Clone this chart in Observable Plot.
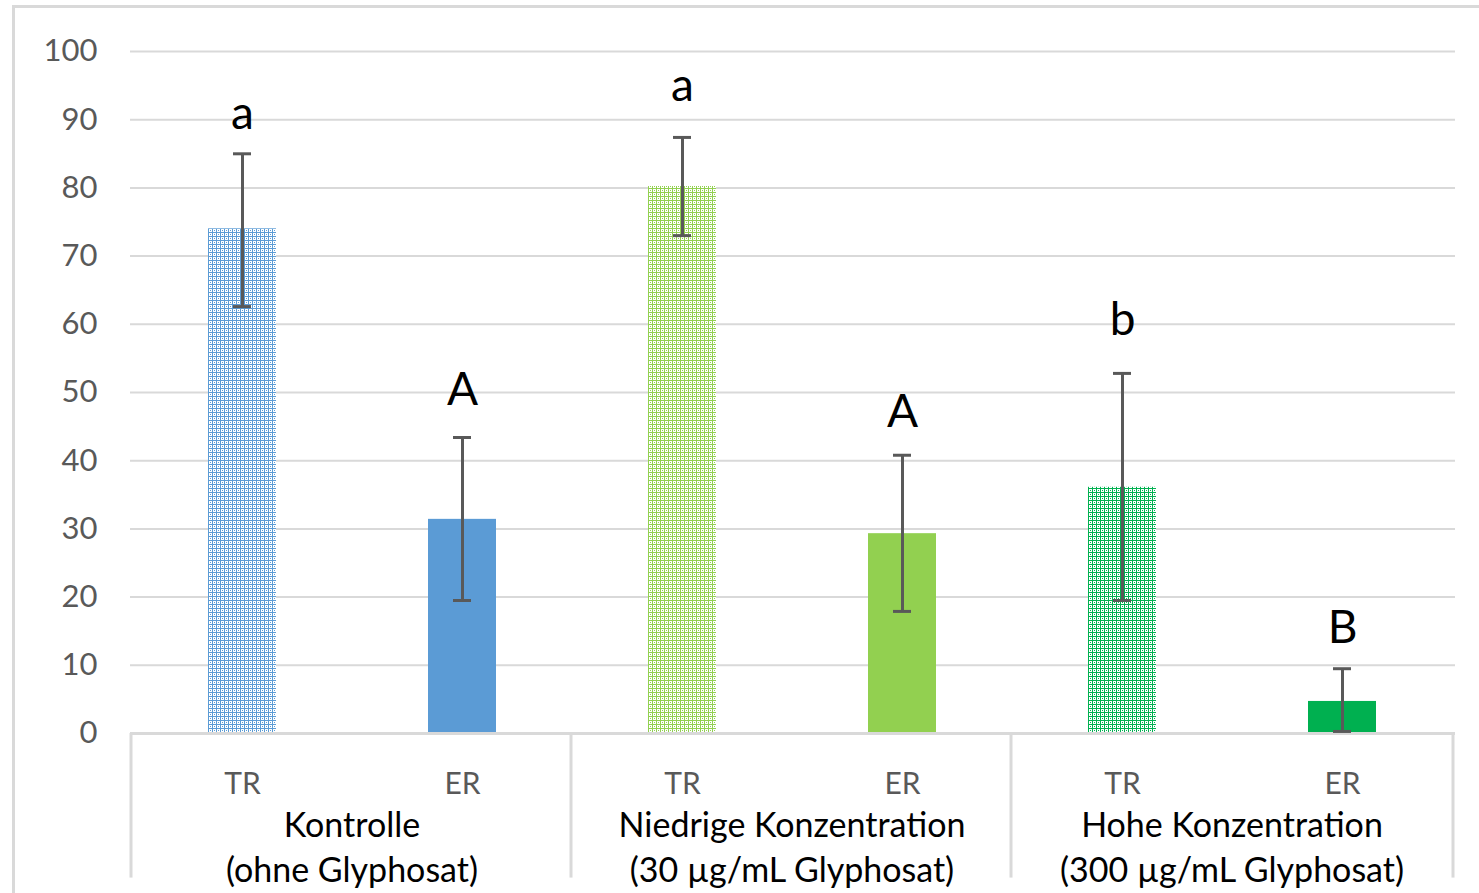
<!DOCTYPE html>
<html>
<head>
<meta charset="utf-8">
<script src="https://cdn.jsdelivr.net/npm/d3@7"></script>
<script src="https://cdn.jsdelivr.net/npm/@observablehq/plot@0.6"></script>
<style>
  html, body { margin: 0; padding: 0; background: #fff; overflow: hidden; }
  #frame { position: absolute; left: 12px; top: 5px; width: 2000px; height: 2000px;
           border-left: 3px solid #d9d9d9; border-top: 3px solid #d9d9d9; }
  #chart { position: absolute; left: 0; top: 0; }
</style>
</head>
<body>
<div id="frame"></div>
<div id="chart"></div>
<script>
// ---- data ----
const groups = ["Kontrolle\n(ohne Glyphosat)", "Niedrige Konzentration\n(30 µg/mL Glyphosat)", "Hohe Konzentration\n(300 µg/mL Glyphosat)"];
const conditions = ["TR", "ER"];
const groupColors = ["#5B9BD5", "#92D050", "#00B050"];
const means   = [74.0, 31.4, 80.2, 29.3, 36.1, 4.7];
const errLow  = [62.6, 19.5, 73.0, 17.9, 19.5, 0.3];
const errHigh = [85.0, 43.4, 87.4, 40.8, 52.8, 9.5];
const letters = ["a", "A", "a", "A", "b", "B"];
const letterY = [88.7, 48.1, 92.7, 44.9, 58.4, 13.3];
const yTicks = [0, 10, 20, 30, 40, 50, 60, 70, 80, 90, 100];

// ---- table built from the arrays ----
const data = [];
groups.forEach((g, gi) => conditions.forEach((c, ci) => {
  const i = gi * 2 + ci;
  data.push({
    key: gi + "|" + c, group: g, cond: c,
    mean: means[i], lo: errLow[i], hi: errHigh[i],
    letter: letters[i], letterY: letterY[i],
    fill: c === "TR" ? `url(#pat${gi})` : groupColors[gi]
  });
}));
const keys = data.map(d => d.key);
const groupData = groups.map((g, gi) => ({label: g, trKey: gi + "|TR", erKey: gi + "|ER"}));

const font = "Lato, 'Open Sans', sans-serif";
const errColor = "#595959";

const chart = Plot.plot({
  width: 1479,
  height: 893,
  marginLeft: 130,
  marginRight: 24,
  marginTop: 51,
  marginBottom: 160,
  style: {fontFamily: font, background: "transparent", overflow: "visible"},
  x: {domain: keys, paddingInner: 0.69, paddingOuter: 0.345, axis: null},
  y: {domain: [0, 100], axis: null},
  color: {type: "identity"},
  marks: [
    Plot.gridY(yTicks, {stroke: "#d9d9d9", strokeOpacity: 1, strokeWidth: 2}),
    Plot.axisY(yTicks, {tickSize: 0, tickPadding: 33, fontSize: 31, fill: "#595959", textAnchor: "end", label: null}),
    Plot.barY(data, {x: "key", y: "mean", fill: "fill"}),
    Plot.ruleY([0], {stroke: "#d9d9d9", strokeWidth: 3}),
    Plot.ruleX(groupData, {x: "trKey", dx: -111.5, y1: 0, y2: -21.2, stroke: "#d9d9d9", strokeWidth: 3}),
    Plot.ruleX(groupData.slice(-1), {x: "erKey", dx: 110.5, y1: 0, y2: -21.2, stroke: "#d9d9d9", strokeWidth: 3}),
    Plot.ruleX(data, {x: "key", y1: "lo", y2: "hi", stroke: errColor, strokeWidth: 3}),
    Plot.tickY(data, {x: "key", y: "lo", stroke: errColor, strokeWidth: 3, insetLeft: 25, insetRight: 25}),
    Plot.tickY(data, {x: "key", y: "hi", stroke: errColor, strokeWidth: 3, insetLeft: 25, insetRight: 25}),
    Plot.text(data, {x: "key", y: "letterY", text: "letter", fontSize: 46, lineAnchor: "bottom", fill: "black"}),
    Plot.text(data, {x: "key", text: "cond", frameAnchor: "bottom", dy: 60, lineAnchor: "bottom", fontSize: 30, fill: "#595959"}),
    Plot.text(groupData, {x: "erKey", dx: -110.5, text: "label", frameAnchor: "bottom", dy: 148, lineAnchor: "bottom", lineHeight: 1.3, fontSize: 34, fill: "black"})
  ]
});

// pattern fills for the TR bars
const ns = "http://www.w3.org/2000/svg";
const defs = document.createElementNS(ns, "defs");
groupColors.forEach((c, gi) => {
  const p = document.createElementNS(ns, "pattern");
  p.setAttribute("id", "pat" + gi);
  p.setAttribute("patternUnits", "userSpaceOnUse");
  p.setAttribute("width", 4);
  p.setAttribute("height", 4);
  const parts = [[0, 0, 4, 4, "#ffffff"], [0, 0, 4, 1, c], [0, 0, 1, 4, c], [2, 2, 1, 1, c]];
  parts.forEach(([x, y, w, h, f]) => {
    const r = document.createElementNS(ns, "rect");
    r.setAttribute("x", x); r.setAttribute("y", y);
    r.setAttribute("width", w); r.setAttribute("height", h);
    r.setAttribute("fill", f);
    p.appendChild(r);
  });
  defs.appendChild(p);
});
chart.insertBefore(defs, chart.firstChild);
document.getElementById("chart").appendChild(chart);
</script>
</body>
</html>
